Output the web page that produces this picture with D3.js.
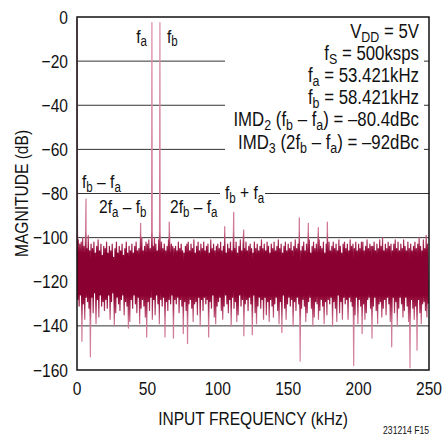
<!DOCTYPE html>
<html><head><meta charset="utf-8">
<script src="https://cdn.jsdelivr.net/npm/d3@7"></script>
<style>html,body{margin:0;padding:0;background:#fff;}svg{display:block;}</style>
</head><body>
<svg id="chart" width="444" height="436"></svg>
<script>
// ---- data ----
const yTicks = [0, -20, -40, -60, -80, -100, -120, -140, -160];
const xTicks = [0, 50, 100, 150, 200, 250];
const binStep = 0.5; // kHz per FFT bin
// spectrum magnitude (dB) per 0.5 kHz bin, 0 .. 249.5 kHz (bin 0 = DC)
const spectrum = [
 -1,-128,-101,-131,-103,-126,-102,-147,-100,-130,-104,-137,-102,-127,-105,-129,-99,-132,-106,-154,
 -103,-127,-105,-134,-102,-125,-107,-139,-104,-128,-101,-136,-106,-126,-103,-131,-108,-129,-104,-133,
 -105,-128,-102,-132,-107,-126,-104,-137,-106,-129,-103,-125,-109,-140,-105,-134,-102,-127,-107,-130,
 -104,-133,-106,-128,-103,-126,-108,-135,-105,-129,-102,-131,-107,-141,-104,-138,-106,-128,-103,-132,
 -107,-126,-104,-130,-102,-134,-106,-127,-105,-139,-103,-132,-100,-128,-106,-131,-104,-136,-102,-145,
 -103,-129,-101,-133,-105,-127,-102,-137,-104,-128,-100,-135,-103,-126,-106,-130,-101,-139,-104,-128,
 -102,-131,-105,-127,-103,-145,-106,-129,-104,-133,-101,-128,-107,-130,-103,-126,-104,-145.5,-105,-128,
 -104,-130,-106,-127,-102,-134,-105,-128,-103,-131,-106,-143.5,-107,-129,-104,-133,-103,-148,-102,-130,
 -106,-128,-103,-132,-105,-138,-101,-130,-107,-129,-104,-135,-102,-127,-106,-140,-103,-128,-105,-133,
 -102,-127,-106,-130,-104,-128,-103,-145,-107,-129,-101,-132,-105,-126,-103,-136,-106,-139,-104,-131,
 -103,-129,-105,-127,-102,-133,-106,-137,-104,-131,-101,-126,-107,-130,-103,-134,-105,-128,-102,-140,
 -106,-127,-103,-132,-105,-129,-102,-138,-107,-135,-104,-126,-101,-131,-106,-128,-103,-144.5,-105,-130,
 -102,-128,-106,-133,-104,-127,-103,-130,-105,-144,-107,-126,-102,-134,-105,-139,-103,-131,-106,-127,
 -104,-132,-101,-128,-105,-137,-103,-127,-106,-135,-102,-129,-104,-138,-107,-128,-103,-131,-105,-136,
 -102,-130,-106,-127,-104,-133,-101,-139,-105,-129,-103,-143,-107,-126,-104,-132,-102,-137,-106,-130,
 -103,-127,-105,-131,-102,-128,-106,-140,-104,-129,-101,-133,-105,-127,-103,-130,-104,-156,-106,-132,
 -104,-128,-102,-131,-106,-138,-103,-134,-105,-129,-101,-127,-107,-132,-104,-140,-102,-136,-105,-129,
 -103,-130,-106,-137,-101,-133,-104,-128,-105,-131,-102,-139,-107,-129,-103,-135,-105,-128,-102,-130,
 -106,-127,-104,-140,-102,-129,-105,-132,-103,-138,-106,-126,-101,-134,-104,-129,-107,-137,-103,-127,
 -102,-130,-105,-128,-103,-137,-106,-127,-101,-129,-104,-131,-103,-158,-105,-135,-102,-127,-106,-139,
 -103,-128,-105,-131,-102,-143.5,-102,-130,-106,-137,-104,-134,-101,-128,-105,-127,-103,-132,-104,-145.5,
 -104,-131,-102,-127,-106,-133,-103,-139,-105,-130,-101,-129,-104,-136,-100,-132,-106,-128,-103,-135,
 -105,-127,-102,-130,-104,-138,-103,-149.5,-106,-127,-103,-134,-101,-129,-105,-140,-102,-132,-106,-127,
 -103,-130,-105,-136,-101,-133,-104,-127,-106,-131,-102,-138,-105,-159,-103,-128,-106,-132,-104,-137,
 -102,-131,-105,-151,-103,-128,-100,-134,-104,-139,-106,-130,-101,-129,-105,-133,-99,-136,-103,-130
];
// tones and spurs between bins: frequency (kHz), level (dB)
const spurFreq = [6.4, 45.2, 53.2, 58.9, 65.5, 104.9, 111.3, 118.4, 157.9, 164.3, 171.4, 177.8];
const spurDb   = [-82.5, -93.5, -2.5, -2.5, -93, -95, -88.5, -96.5, -91, -93.5, -95.5, -93];

const xTitle = "INPUT FREQUENCY (kHz)";
const yTitle = "MAGNITUDE (dB)";
const figId = "231214 F15";
// annotation lines: [text, isSubscript]
const infoLines = [
  [["V"],["DD",1],[" = 5V"]],
  [["f"],["S",1],[" = 500ksps"]],
  [["f"],["a",1],[" = 53.421kHz"]],
  [["f"],["b",1],[" = 58.421kHz"]],
  [["IMD"],["2",1],[" (f"],["b",1],[" – f"],["a",1],[") = –80.4dBc"]],
  [["IMD"],["3",1],[" (2f"],["b",1],[" – f"],["a",1],[") = –92dBc"]]
];

// ---- font setup ----
function hasFont(name){
  const c = document.createElement('canvas').getContext('2d');
  const s = 'MAGNITUDE INPUT 0123456789';
  c.font = '40px monospace'; const a = c.measureText(s).width;
  c.font = '40px "' + name + '", monospace'; const b = c.measureText(s).width;
  return Math.abs(a - b) > 0.5;
}
const narrow = hasFont('Liberation Sans Narrow');
const FAMILY = narrow ? '"Liberation Sans Narrow"' : '"Liberation Sans", Arial, sans-serif';
const SX = narrow ? 1 : 0.82;

// ---- layout ----
const svg = d3.select('#chart');
const L = 77, R = 429, T = 17, B = 370;
const x = d3.scaleLinear().domain([0, 250]).range([L, R]);
const y = d3.scaleLinear().domain([-160, 0]).range([B, T]);

function label(parent, px, py, anchor, parts, size, rot){
  const g = parent.append('g')
    .attr('transform', `translate(${px},${py})` + (rot ? ` rotate(${rot})` : '') + ` scale(${SX},1)`);
  const t = g.append('text').attr('text-anchor', anchor)
    .attr('font-family', FAMILY).attr('font-size', size).attr('fill', '#111');
  const sh = size * 0.2;
  let cur = 0;
  parts.forEach(p => {
    const sub = !!p[1];
    const ts = t.append('tspan').text(p[0]);
    const want = sub ? sh : 0;
    if (want !== cur) { ts.attr('dy', want - cur); cur = want; }
    if (sub) ts.attr('font-size', size * 0.74);
  });
  return t;
}

// stroke colour: dense noise core dark, thin excursions lighter (as rendered in the original)
const defs = svg.append('defs');
const grad = defs.append('linearGradient').attr('id', 'specGrad')
  .attr('gradientUnits', 'userSpaceOnUse').attr('x1', 0).attr('x2', 0).attr('y1', T).attr('y2', B);
const stops = [
  [T, '#dc8fab'], [y(-97), '#cf7898'], [y(-103), '#a42650'], [y(-107), '#8a0030'],
  [y(-126), '#8a0030'], [y(-131), '#a42650'], [y(-138), '#cd7595'], [B, '#d98ca8']
];
stops.forEach(s => grad.append('stop').attr('offset', (s[0] - T) / (B - T)).attr('stop-color', s[1]));

// gridlines
svg.append('g').selectAll('line').data(yTicks.filter(v => v < 0 && v > -160)).join('line')
  .attr('x1', L).attr('x2', R).attr('y1', d => y(d)).attr('y2', d => y(d))
  .attr('stroke', '#333').attr('stroke-width', 1);

// spectrum
const series = spectrum.map((db, i) => ({f: i * binStep, db}))
  .concat(spurFreq.map((f, i) => ({f, db: spurDb[i]})))
  .sort((a, b) => a.f - b.f);
svg.append('path').datum(series)
  .attr('d', d3.line().x(d => x(d.f)).y(d => y(d.db)))
  .attr('fill', 'none').attr('stroke', 'url(#specGrad)').attr('stroke-width', 1.25)
  .attr('stroke-linejoin', 'round');

// frame
svg.append('rect').attr('x', L).attr('y', T).attr('width', R - L).attr('height', B - T)
  .attr('fill', 'none').attr('stroke', '#111').attr('stroke-width', 1.5);

// tick labels
yTicks.forEach(v => {
  label(svg, 68, y(v) + 6.5, 'end', [[v === 0 ? '0' : '\u2212' + Math.abs(v)]], 19);
});
xTicks.forEach(v => {
  label(svg, x(v), 394.5, 'middle', [[String(v)]], 19);
});
label(svg, (L + R) / 2, 425, 'middle', [[xTitle]], 19);
label(svg, 28, (T + B) / 2, 'middle', [[yTitle]], 19, -90);
label(svg, 429, 434, 'end', [[figId]], 10.5);

// annotation block
svg.append('rect').attr('x', 225).attr('y', 21).attr('width', 199).attr('height', 134).attr('fill', '#fff');
infoLines.forEach((ln, i) => label(svg, 419, 37.5 + i * 22.2, 'end', ln, 20.5));

// spur labels
svg.append('rect').attr('x', 220).attr('y', 186).attr('width', 45).attr('height', 20).attr('fill', '#fff');
label(svg, 147, 42.5, 'end', [["f"],["a",1]], 19);
label(svg, 167, 42.5, 'start', [["f"],["b",1]], 19);
label(svg, 82, 188, 'start', [["f"],["b",1],[" – f"],["a",1]], 19);
label(svg, 99, 213, 'start', [["2f"],["a",1],[" – f"],["b",1]], 19);
label(svg, 170, 213, 'start', [["2f"],["b",1],[" – f"],["a",1]], 19);
label(svg, 225, 199, 'start', [["f"],["b",1],[" + f"],["a",1]], 19);
</script>
</body></html>
